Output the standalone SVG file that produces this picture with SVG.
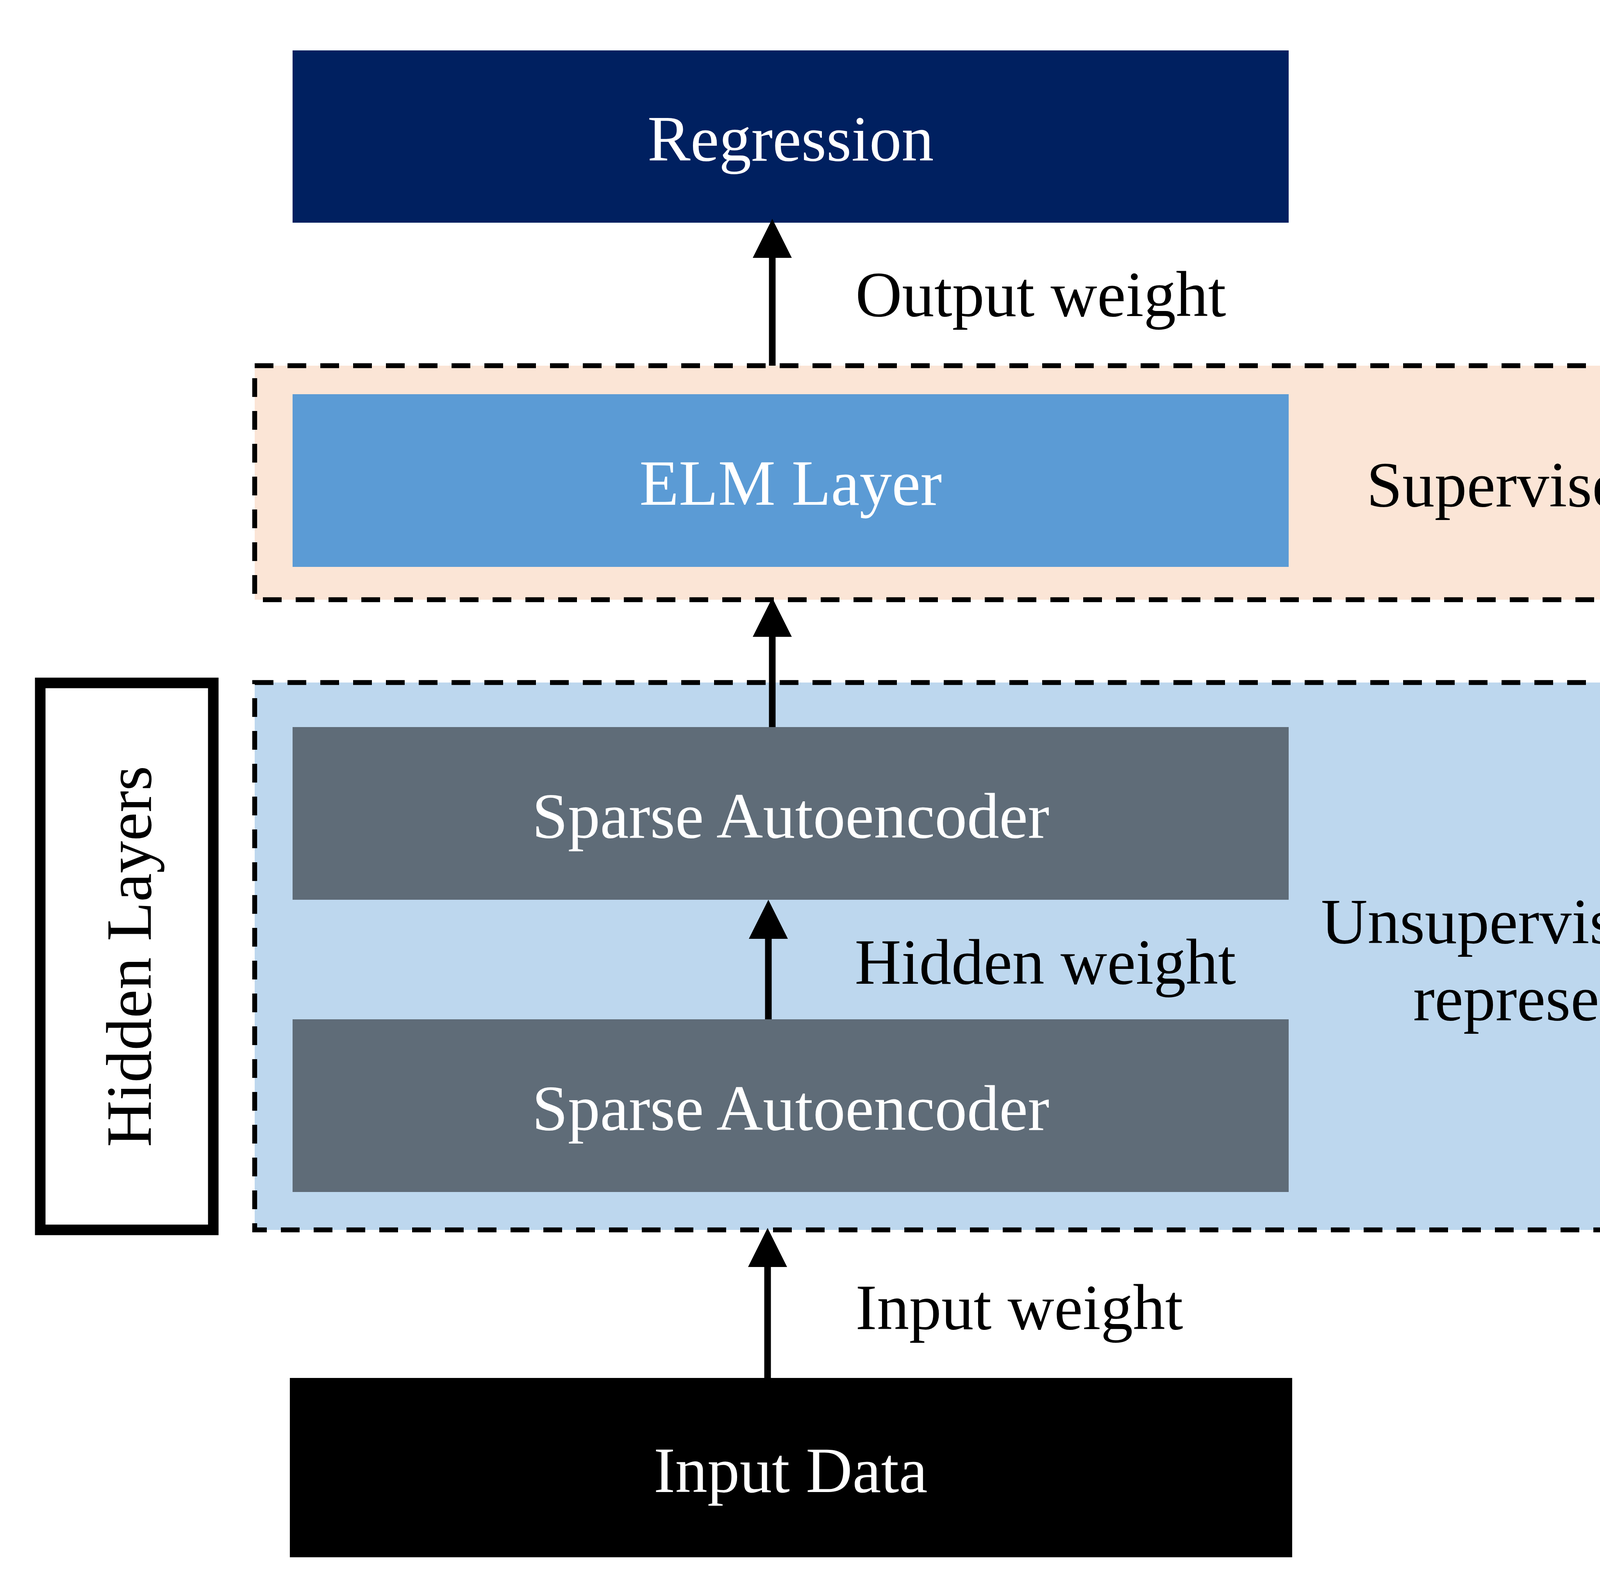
<svg xmlns="http://www.w3.org/2000/svg" width="4920" height="4080" viewBox="0 0 4920 4080">
<style>
text{font-family:"Liberation Serif","Times New Roman",serif;font-size:165px}
.w{fill:#ffffff}
.k{fill:#000000}
.c{text-anchor:middle}
.dash{stroke:#000000;stroke-width:12.5;stroke-dasharray:48 36}
.conn{stroke:#000000;stroke-width:17;fill:none}
</style>
<defs>
<marker id="ah" markerUnits="userSpaceOnUse" markerWidth="100" markerHeight="100" refX="0" refY="50" orient="auto" viewBox="0 0 100 100">
<path d="M0,0 L100,50 L0,100 Z" fill="#000000"/>
</marker>
</defs>
<rect width="4920" height="4080" fill="#ffffff"/>
<g id="supervised-stage">
<rect x="652" y="936" width="4229" height="599" fill="#FBE5D6" class="dash"/>
<text x="4055" y="1296" class="k c">Supervised stage</text>
</g>
<g id="unsupervised-stage">
<rect x="652" y="1747" width="4229" height="1401" fill="#BDD7EE" class="dash"/>
<text x="4085" y="2414" class="k c">Unsupervised feature</text>
<text x="4085" y="2611" class="k c">representation</text>
</g>
<g id="hidden-layers">
<rect x="103" y="1748" width="443" height="1400" fill="#ffffff" stroke="#000000" stroke-width="27"/>
<text x="386" y="2448" class="k c" transform="rotate(-90 386 2448)">Hidden Layers</text>
</g>
<g id="regression">
<rect x="749" y="129" width="2550" height="441" fill="#002060"/>
<text x="2024" y="411" class="w c">Regression</text>
</g>
<g id="elm-layer">
<rect x="749" y="1009" width="2550" height="442" fill="#5B9BD5"/>
<text x="2024" y="1292" class="w c">ELM Layer</text>
</g>
<g id="sparse-autoencoder-2">
<rect x="749" y="1861" width="2550" height="442" fill="#5F6C78"/>
<text x="2024" y="2144" class="w c">Sparse Autoencoder</text>
</g>
<g id="sparse-autoencoder-1">
<rect x="749" y="2609" width="2550" height="442" fill="#5F6C78"/>
<text x="2024" y="2892" class="w c">Sparse Autoencoder</text>
</g>
<g id="input-data">
<rect x="742" y="3527" width="2566" height="459" fill="#000000"/>
<text x="2024" y="3819" class="w c">Input Data</text>
</g>
<g id="connectors">
<line x1="1977" y1="936" x2="1977" y2="660" class="conn" marker-end="url(#ah)"/>
<line x1="1977" y1="1861" x2="1977" y2="1630" class="conn" marker-end="url(#ah)"/>
<line x1="1967" y1="2609" x2="1967" y2="2403" class="conn" marker-end="url(#ah)"/>
<line x1="1965" y1="3527" x2="1965" y2="3243" class="conn" marker-end="url(#ah)"/>
<text x="2190" y="809" class="k">Output weight</text>
<text x="2188" y="2518" class="k">Hidden weight</text>
<text x="2190" y="3402" class="k">Input weight</text>
</g>
</svg>
